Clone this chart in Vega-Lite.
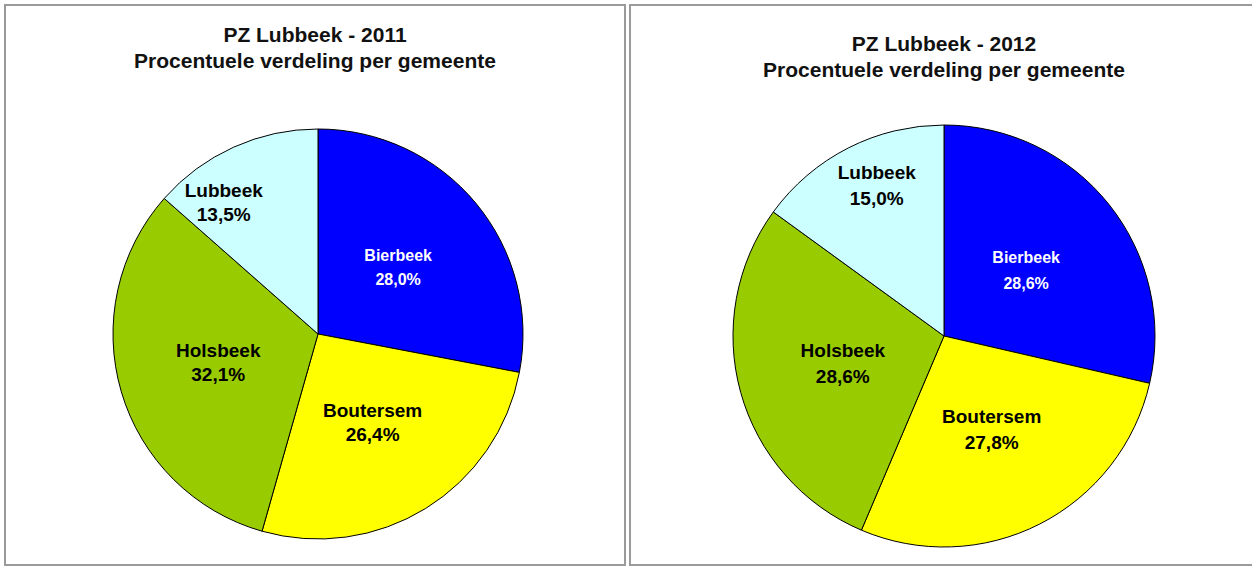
{
  "$schema": "https://vega.github.io/schema/vega-lite/v6.json",
  "padding": {"left": 4, "top": 4, "right": 0, "bottom": 0},
  "spacing": 3,
  "background": "white",
  "datasets": {
    "pz": [
      {"jaar": 2011, "gemeente": "Bierbeek", "aandeel": 0.280},
      {"jaar": 2011, "gemeente": "Boutersem", "aandeel": 0.264},
      {"jaar": 2011, "gemeente": "Holsbeek", "aandeel": 0.321},
      {"jaar": 2011, "gemeente": "Lubbeek", "aandeel": 0.135},
      {"jaar": 2012, "gemeente": "Bierbeek", "aandeel": 0.286},
      {"jaar": 2012, "gemeente": "Boutersem", "aandeel": 0.278},
      {"jaar": 2012, "gemeente": "Holsbeek", "aandeel": 0.286},
      {"jaar": 2012, "gemeente": "Lubbeek", "aandeel": 0.150}
    ]
  },
  "config": {
    "locale": {"number": {"decimal": ",", "thousands": ".", "grouping": [3], "currency": ["€", ""]}},
    "view": {"stroke": "#9a9a9a", "strokeWidth": 2},
    "title": {"font": "Liberation Sans", "fontSize": 21, "fontWeight": "bold", "color": "#111111", "lineHeight": 26, "anchor": "middle", "frame": "group"},
    "arc": {"stroke": "#000000", "strokeWidth": 1},
    "text": {"font": "Liberation Sans", "fontWeight": "bold", "align": "center", "baseline": "middle"}
  },
  "hconcat": [
    {
      "width": 620,
      "height": 560,
      "view": {"stroke": "#9a9a9a", "strokeWidth": 2, "fill": "white"},
      "data": {"name": "pz"},
      "transform": [{"filter": "datum.jaar == 2011"}],
      "title": {"text": ["PZ Lubbeek - 2011", "Procentuele verdeling per gemeente"], "offset": -67},
      "encoding": {
        "theta": {"field": "aandeel", "type": "quantitative", "stack": true},
        "order": {"field": "gemeente", "sort": "ascending"}
      },
      "layer": [
        {
          "mark": {"type": "arc", "outerRadius": 205, "xOffset": 3, "yOffset": 49},
          "encoding": {
            "color": {"field": "gemeente", "type": "nominal", "legend": null,
              "scale": {"domain": ["Bierbeek", "Boutersem", "Holsbeek", "Lubbeek"], "range": ["#0000ff", "#ffff00", "#99cc00", "#ccffff"]}}
          }
        },
        {
          "mark": {"type": "text", "radius": {"expr": "datum.gemeente === 'Lubbeek' ? 144 : 104"}, "dx": {"expr": "datum.gemeente === 'Lubbeek' ? -35 : 0"}, "dy": -12, "xOffset": 3, "yOffset": 49},
          "encoding": {
            "text": {"field": "gemeente", "type": "nominal"},
            "detail": {"field": "gemeente", "type": "nominal"},
            "color": {"condition": {"test": "datum.gemeente === 'Bierbeek'", "value": "#ffffff"}, "value": "#000000"},
            "size": {"condition": {"test": "datum.gemeente === 'Bierbeek'", "value": 16}, "value": 19}
          }
        },
        {
          "mark": {"type": "text", "radius": {"expr": "datum.gemeente === 'Lubbeek' ? 144 : 104"}, "dx": {"expr": "datum.gemeente === 'Lubbeek' ? -35 : 0"}, "dy": 12, "xOffset": 3, "yOffset": 49},
          "encoding": {
            "text": {"field": "aandeel", "type": "quantitative", "format": ".1%"},
            "detail": {"field": "gemeente", "type": "nominal"},
            "color": {"condition": {"test": "datum.gemeente === 'Bierbeek'", "value": "#ffffff"}, "value": "#000000"},
            "size": {"condition": {"test": "datum.gemeente === 'Bierbeek'", "value": 16}, "value": 19}
          }
        }
      ]
    },
    {
      "width": 628,
      "height": 560,
      "view": {"stroke": "#9a9a9a", "strokeWidth": 2, "fill": "white"},
      "data": {"name": "pz"},
      "transform": [{"filter": "datum.jaar == 2012"}],
      "title": {"text": ["PZ Lubbeek - 2012", "Procentuele verdeling per gemeente"], "offset": -76},
      "encoding": {
        "theta": {"field": "aandeel", "type": "quantitative", "stack": true},
        "order": {"field": "gemeente", "sort": "ascending"}
      },
      "layer": [
        {
          "mark": {"type": "arc", "outerRadius": 211, "yOffset": 51},
          "encoding": {
            "color": {"field": "gemeente", "type": "nominal", "legend": null,
              "scale": {"domain": ["Bierbeek", "Boutersem", "Holsbeek", "Lubbeek"], "range": ["#0000ff", "#ffff00", "#99cc00", "#ccffff"]}}
          }
        },
        {
          "mark": {"type": "text", "radius": {"expr": "datum.gemeente === 'Lubbeek' ? 168 : 105"}, "dx": {"expr": "datum.gemeente === 'Lubbeek' ? 9 : 0"}, "dy": -13, "yOffset": 51},
          "encoding": {
            "text": {"field": "gemeente", "type": "nominal"},
            "detail": {"field": "gemeente", "type": "nominal"},
            "color": {"condition": {"test": "datum.gemeente === 'Bierbeek'", "value": "#ffffff"}, "value": "#000000"},
            "size": {"condition": {"test": "datum.gemeente === 'Bierbeek'", "value": 16}, "value": 19}
          }
        },
        {
          "mark": {"type": "text", "radius": {"expr": "datum.gemeente === 'Lubbeek' ? 168 : 105"}, "dx": {"expr": "datum.gemeente === 'Lubbeek' ? 9 : 0"}, "dy": 13, "yOffset": 51},
          "encoding": {
            "text": {"field": "aandeel", "type": "quantitative", "format": ".1%"},
            "detail": {"field": "gemeente", "type": "nominal"},
            "color": {"condition": {"test": "datum.gemeente === 'Bierbeek'", "value": "#ffffff"}, "value": "#000000"},
            "size": {"condition": {"test": "datum.gemeente === 'Bierbeek'", "value": 16}, "value": 19}
          }
        }
      ]
    }
  ]
}
